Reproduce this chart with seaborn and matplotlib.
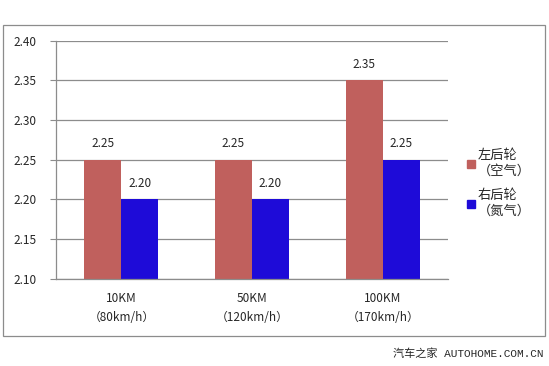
import pandas as pd
import matplotlib.pyplot as plt
import seaborn as sns
from matplotlib.patches import Rectangle

# 数据
categories = ['10KM\n（80km/h）', '50KM\n（120km/h）', '100KM\n（170km/h）']
series_names = ['左后轮\n（空气）', '右后轮\n（氮气）']
left_air = [2.25, 2.25, 2.35]
right_n2 = [2.20, 2.20, 2.25]
yticks = [2.10, 2.15, 2.20, 2.25, 2.30, 2.35, 2.40]

RED = '#C0605D'
BLUE = '#1E0BD8'
GREY = '#8c8c8c'

df = pd.DataFrame({
    'cat': categories * 2,
    'serie': [series_names[0]] * 3 + [series_names[1]] * 3,
    'val': left_air + right_n2,
})

sns.set_style('white')
plt.rcParams['font.family'] = ['Noto Sans CJK SC', 'DejaVu Sans']

fig = plt.figure(figsize=(5.49, 3.66), dpi=100)
# 外框
fig.patches.append(Rectangle((0.0046, 0.082), 0.989, 0.851, transform=fig.transFigure,
                             fill=False, edgecolor=GREY, linewidth=0.9))
ax = fig.add_axes([0.102, 0.239, 0.714, 0.650])

sns.barplot(data=df, x='cat', y='val', hue='serie', ax=ax,
            palette=[RED, BLUE], width=0.565, saturation=1, legend=False,
            linewidth=0, edgecolor='none')

ax.set_ylim(2.10, 2.40)
ax.set_yticks(yticks)
ax.set_yticklabels([f'{v:.2f}' for v in yticks], fontsize=8.5)
ax.set_xlabel('')
ax.set_ylabel('')
ax.yaxis.grid(True, color=GREY, linewidth=0.9)
ax.set_axisbelow(True)
for s in ['top', 'right']:
    ax.spines[s].set_visible(False)
for s in ['left', 'bottom']:
    ax.spines[s].set_color(GREY)
    ax.spines[s].set_linewidth(0.9)

# x 刻度放在类别之间，标签居中
ax.set_xlim(-0.5, 2.5)
ax.set_xticks([-0.5, 0.5, 1.5, 2.5])
ax.set_xticklabels([])
ax.set_xticks([0, 1, 2], minor=True)
ax.set_xticklabels(categories, minor=True, fontsize=8.5, linespacing=1.6)
ax.tick_params(axis='x', which='major', length=4, color=GREY)
ax.tick_params(axis='x', which='minor', length=0, pad=10)
ax.tick_params(axis='y', length=4, color=GREY, left=True, pad=10)

for c in ax.containers:
    ax.bar_label(c, labels=[f'{v:.2f}' for v in c.datavalues], padding=7, fontsize=8.5)

handles = [plt.Line2D([], [], marker='s', linestyle='', markersize=6, color=col)
           for col in [RED, BLUE]]
ax.legend(handles, series_names, loc='center left', bbox_to_anchor=(1.015, 0.40),
          frameon=False, fontsize=9.5, handletextpad=0.1, labelspacing=0.9,
          handlelength=0.8)

fig.text(0.99, 0.035, '汽车之家 AUTOHOME.COM.CN', ha='right', va='center', fontsize=8,
         family=['Liberation Mono', 'Noto Sans CJK SC'])

fig.savefig('out.png', dpi=100)
